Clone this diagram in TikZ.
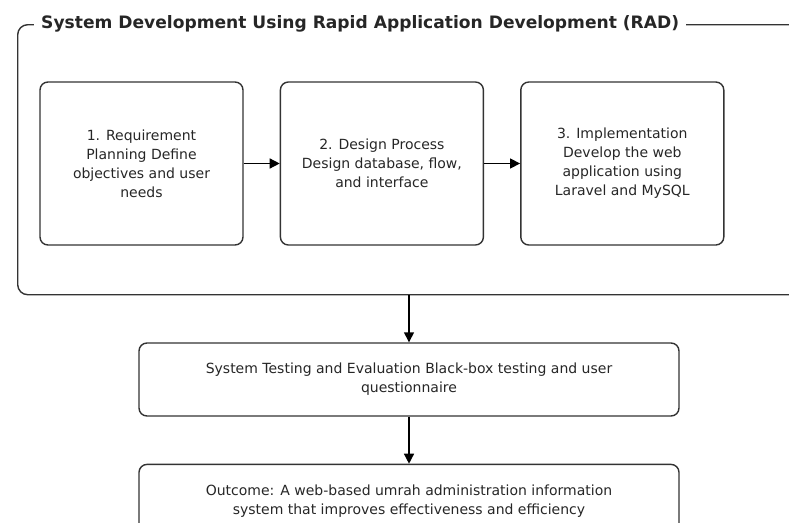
\documentclass[tikz,border=0pt]{standalone}
\usepackage{fontspec}
\setmainfont{DejaVu Sans}
\usetikzlibrary{positioning}
\usetikzlibrary{arrows.meta}

\begin{document}
\begin{tikzpicture}[x=1pt,y=-1pt,>={Triangle[length=10pt,width=10pt]},
    every node/.style={font=\fontsize{14}{19}\selectfont,text=black!85},
    stepbox/.style={shape=rectangle,draw=black!80,line width=1.4pt,rounded corners=8pt,align=center,minimum width=203pt,minimum height=163pt},
    widebox/.style={stepbox,minimum width=540pt,minimum height=73pt},
    node distance=48pt and 36pt]
	    % page frame, the picture is cut at the right and bottom
	    \useasboundingbox (0,0) rectangle (789,522);
	    \clip (0,0) rectangle (789,522);
	    % RAD cluster
	    \node[draw=black!80,line width=1.4pt,rounded corners=10pt,minimum width=803pt,minimum height=270pt,anchor=north west] (rad) at (17,24) {};
	    \node[fill=white,inner xsep=7pt,inner ysep=1pt,anchor=base west,font=\fontsize{17.1}{20}\selectfont\bfseries] (title) at (34,28) {System Development Using Rapid Application Development (RAD)};
	    % create the nodes
		    \node[stepbox] (req) at (141.5,163.5) {1. Requirement\\Planning Define\\objectives and user\\needs};
		    \node[stepbox] (des)[right =of req] {2. Design Process\\Design database, flow,\\and interface};
		    \node[stepbox] (imp)[right =of des] {3. Implementation\\Develop the web\\application using\\Laravel and MySQL};
		    \node[widebox] (test) at (409,379.5) {System Testing and Evaluation Black-box testing and user\\questionnaire};
		    \node[widebox] (out)[below =47pt of test] {Outcome: A web-based umrah administration information\\system that improves effectiveness and efficiency};
	    % arrows
	    \draw[->,line width=1.4pt] (req) -- (des);
	    \draw[->,line width=1.4pt] (des) -- (imp);
	    \draw[->,line width=1.4pt] (rad.south -| test.north) -- (test);
	    \draw[->,line width=1.4pt] (test) -- (out);
		\end{tikzpicture}
\end{document}
